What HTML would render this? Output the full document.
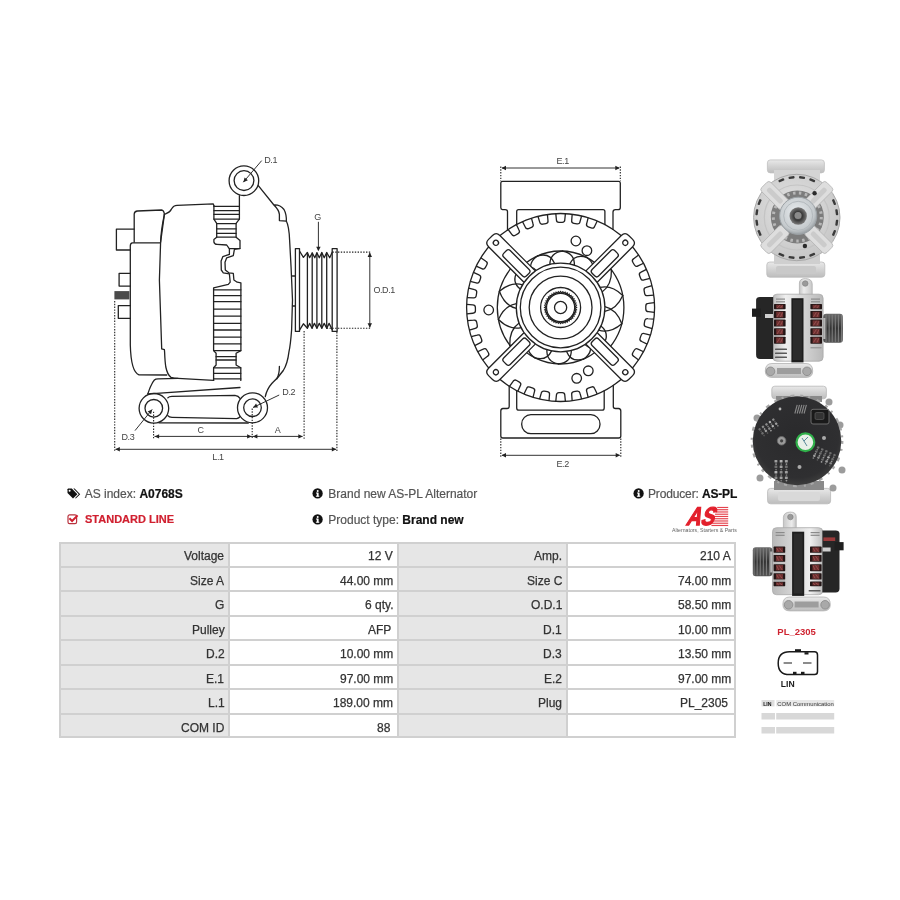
<!DOCTYPE html>
<html><head><meta charset="utf-8"><title>A0768S</title>
<style>
html,body{margin:0;padding:0;background:#fff;}
body{width:900px;height:900px;position:relative;overflow:hidden;font-family:"Liberation Sans",sans-serif;color:#333;}
.abs{position:absolute;}
.info,.cell,svg.draw{will-change:transform;}
svg.draw{position:absolute;left:0;top:0;}
.info{position:absolute;font-size:12px;color:#555;white-space:nowrap;line-height:14px;-webkit-text-stroke:0.2px currentColor;}
.info b{color:#111;}
.cell{position:absolute;font-size:12px;line-height:17px;color:#333;-webkit-text-stroke:0.25px #333;white-space:nowrap;text-align:right;}
</style></head><body>
<svg class="draw" width="900" height="900" viewBox="0 0 900 900">
<g fill="none" stroke="#222" stroke-width="1.3" stroke-linejoin="round" stroke-linecap="round">
<path d="M134.2,242.2 L134.2,214 Q134.5,211.2 137.5,211 L161.5,210 Q164,210.3 164.4,214.4 L160.6,242.2"/>
<path d="M160,242.8 L132.5,242.8 Q130.3,243 130.3,246 L130.3,345 Q131,372 139,374.8 L166.7,375"/>
<path d="M134.2,229.1 L116.4,229.1 L116.4,250 L130.3,250"/>
<path d="M130.3,273.3 L119.1,273.3 L119.1,286.1 L130.3,286.1"/>
<path d="M130.3,305.6 L118.3,305.6 L118.3,318.3 L130.3,318.3"/>
<path d="M164.4,214.4 L165.6,213.9 Q170,212.5 171.5,209 Q173.5,205.5 177,205.4 L213.3,203.9 L213.9,205.6"/>
<path d="M164.4,214.4 Q161,230 160.6,242.2 L159.4,280 L161.7,348.9 L164.4,349.6 L164.6,352 Q165,362 165.8,367 Q167.5,375 171,377.4 Q174,378.3 178,378.4 L213.6,380.4"/>
<path d="M213.9,205.6 L213.9,219.1 L216.7,223.3 L216.7,237.2 L213.9,239.4 L213.9,242 Q214.5,244.3 217,244.4 L226.7,245 L229.4,248.9 L229.4,254.4 L222.8,256.7 L221.1,261.1 L221.3,270 L223.3,272.8 L229.4,273.9 L230.2,282.2 L228.3,284.4 L213.6,287.8 L213.6,350.6 L216.1,353.3 L216.1,365 L213.6,367.8 L213.6,380.4"/>
<path d="M239.4,195.6 L239.4,219.1 L236.1,223.3 L236.1,237.2 L240,240.5 L240,248.3 L234.4,249.4 L233.3,255.6 L226.7,257.8 L225,262.2 L225.3,270 L228.9,272.8 L233.3,273.3 L233.9,280 L237.2,282.2 L240.9,282.8 L240.9,350.6 L236.1,353.3 L236.1,365 L240.8,367.8 L240.8,380.4"/>
<path d="M213.9,206.4 L239.4,206.4"/>
<path d="M213.9,210.6 L239.4,210.6"/>
<path d="M213.9,214.4 L239.4,214.4"/>
<path d="M213.9,219.1 L239.4,219.1"/>
<path d="M216.7,223.6 L236.1,223.6"/>
<path d="M216.7,228.9 L236.1,228.9"/>
<path d="M216.7,233.3 L236.1,233.3"/>
<path d="M216.7,237.2 L236.1,237.2"/>
<path d="M229.4,248.6 L240,248.6"/>
<path d="M213.6,289.8 L240.9,289.8"/>
<path d="M213.6,295.6 L240.9,295.6"/>
<path d="M213.6,301.7 L240.9,301.7"/>
<path d="M213.6,309.1 L240.9,309.1"/>
<path d="M213.6,316.1 L240.9,316.1"/>
<path d="M213.6,323.3 L240.9,323.3"/>
<path d="M213.6,330 L240.9,330"/>
<path d="M213.6,337.2 L240.9,337.2"/>
<path d="M213.6,343.9 L240.9,343.9"/>
<path d="M213.6,350.6 L240.9,350.6"/>
<path d="M216.1,356.7 L236.1,356.7"/>
<path d="M216.1,360 L236.1,360"/>
<path d="M213.6,367.8 L240.8,367.8"/>
<path d="M213.6,373.3 L240.8,373.3"/>
<path d="M213.6,378.9 L240.8,378.9"/>
<circle cx="243.9" cy="180.7" r="14.8"/>
<circle cx="244" cy="180.6" r="9.9"/>
<path d="M258.3,185.6 L273.9,205 Q280,204.5 284,209.5 Q286.5,214 286.4,221.2 M273.9,205 Q279,210 279.4,214.4 L279.4,220.6 L286.4,221.2"/>
<path d="M286.4,221.2 Q289,226 289.6,240 L291.1,267.8 L292.5,300 L291.6,330 Q290.5,345 288.9,352.2 Q287.5,364 283.3,370.5 Q278,378 272,383.3 Q267,389 265.3,396.5"/>
<path d="M279.4,366.3 Q279.5,374 276.8,378.9"/>
<path d="M292.4,276 L295.4,276 M292.5,306 L295.4,306"/>
<path d="M147.8,393.9 Q151,384 154.4,380 Q155.5,379 158,378.9 L178,378.4"/>
<path d="M147.8,393.9 L156.7,393.3 L240,387.5"/>
<path d="M167.8,397.8 Q169,396.4 172,396.3 L235,395.3 Q238.5,395.8 240,398.3"/>
<path d="M167.8,415.6 Q169,417.2 172,417.3 L236.7,418.7 Q239,418.2 240,416.7"/>
<path d="M158.9,422.8 L248.3,423"/>
<circle cx="153.9" cy="408.3" r="14.8"/>
<circle cx="153.8" cy="408.3" r="8.8"/>
<circle cx="252.5" cy="407.8" r="15"/>
<circle cx="252.5" cy="407.7" r="8.8"/>
<path d="M295.4,331.4 L295.4,248.6 L299.5,248.6 L299.5,331.4 Z"/>
<path d="M332.2,331.4 L332.2,248.6 L337.1,248.6 L337.1,331.4 Z"/>
<path d="M299.5,251 L303.4,257.4 L307.4,252.5 L309.6,257.7 L312.3,253.1 L314.8,257.7 L316.9,252.8 L319.3,257.7 L321.8,252.5 L324.2,257.7 L326.7,252.5 L329.7,257.7 L332.2,252.2"/>
<path d="M299.5,330.2 L303.4,323.8 L307.4,328.3 L309.6,323.4 L312,328.3 L314.4,323.4 L316.9,328.3 L319.3,323.4 L321.8,328.3 L324.2,323.4 L326.7,328.3 L329.1,323.4 L332.2,329.6"/>
<path d="M307.4,252.8 L307.4,328"/>
<path d="M312.2,252.8 L312.2,328"/>
<path d="M316.9,252.8 L316.9,328"/>
<path d="M321.8,252.8 L321.8,328"/>
<path d="M326.7,252.8 L326.7,328"/>
</g>
<rect x="114.4" y="291.1" width="15" height="8.3" fill="#4a4a4a"/>
<g fill="none" stroke="#222" stroke-width="1.1" stroke-dasharray="1.4 1.4">
<path d="M114.7,301 L114.7,451"/>
<path d="M153.6,411.7 L153.6,438.5"/>
<path d="M252.2,408.5 L252.2,439"/>
<path d="M304.1,331 L304.1,439"/>
<path d="M336.9,332 L336.9,451"/>
<path d="M332.4,252.1 L371.3,252.1"/>
<path d="M326.7,328.3 L371.3,328.3"/>
</g>
<g fill="none" stroke="#333" stroke-width="1">
<path d="M154.5,436.4 L302.5,436.4"/>
<path d="M115.5,449.3 L336,449.3"/>
<path d="M369.8,253 L369.8,327.5"/>
<path d="M318.4,221.8 L318.4,250"/>
<path d="M243.3,182.2 L261.7,160.6"/>
<path d="M152.2,409.4 L135,430.6"/>
<path d="M253,407.5 L279.2,395"/>
</g>
<g fill="#222" stroke="none">
<path d="M154.6,436.4 L159.1,434.2 L159.1,438.6 Z"/>
<path d="M251.6,436.4 L247.1,438.6 L247.1,434.2 Z"/>
<path d="M252.9,436.4 L257.4,434.2 L257.4,438.6 Z"/>
<path d="M302.8,436.4 L298.3,438.6 L298.3,434.2 Z"/>
<path d="M115.3,449.3 L119.8,447.1 L119.8,451.5 Z"/>
<path d="M336.3,449.3 L331.8,451.5 L331.8,447.1 Z"/>
<path d="M369.8,252.6 L372,257.1 L367.6,257.1 Z"/>
<path d="M369.8,327.8 L367.6,323.3 L372,323.3 Z"/>
<path d="M318.4,251.3 L316.2,246.8 L320.6,246.8 Z"/>
<path d="M243.3,182.2 L244.6,177.4 L247.9,180.2 Z"/>
<path d="M152.2,409.4 L151.1,414.3 L147.6,411.5 Z"/>
<path d="M253,407.5 L256.1,403.6 L258,407.5 Z"/>
</g>
<g font-family="Liberation Sans, sans-serif" font-size="9" fill="#444" letter-spacing="-0.4">
<text x="264.2" y="162.8">D.1</text>
<text x="314.3" y="220.3">G</text>
<text x="373.4" y="293.4">O.D.1</text>
<text x="282.3" y="395">D.2</text>
<text x="121.5" y="440.2">D.3</text>
<text x="197.6" y="433.3">C</text>
<text x="274.8" y="433.3">A</text>
<text x="212.3" y="460">L.1</text>
<text x="556.5" y="164.2">E.1</text>
<text x="556.5" y="466.7">E.2</text>
</g>
<g fill="none" stroke="#222" stroke-width="1.3" stroke-linejoin="round" stroke-linecap="round">
<path d="M507.5,229.93 L507.5,211.5 Q507.3,209.7 505,209.7 L502.5,209.7 Q500.8,209.5 500.8,207.5 L500.8,183 Q500.8,181.3 502.5,181.3 L618.6,181.3 Q620.3,181.3 620.3,183 L620.3,207.5 Q620.3,209.7 618,209.7 L615.5,209.7 Q613,209.8 613,212 L613,229.46"/>
<path d="M516.7,224.38 L516.7,211.5 Q516.7,209.6 518.6,209.6 L603,209.6 Q604.9,209.6 604.9,211.5 L604.9,224.59"/>
<path d="M509.2,386.2 L509.2,406.5 Q509.2,408.5 507,408.5 L503,408.5 Q500.8,408.7 500.8,411 L500.8,436 Q500.8,438 503,438 L618.6,438 Q620.8,438 620.8,436 L620.8,411 Q620.8,408.7 618.5,408.5 L615.5,408.5 Q613.3,408.5 613.3,406.5 L613.3,385.34"/>
<path d="M516.7,390.62 L516.7,408 Q516.7,410.2 519,410.2 L602,410.2 Q604.2,410.2 604.2,408 L604.2,390.78"/>
<rect x="521.7" y="414.7" width="78.3" height="19" rx="9.2"/>
<circle cx="560.6" cy="307.5" r="94"/>
</g>
<g fill="none" stroke="#222" stroke-width="1.3" stroke-linejoin="round">
<path transform="translate(560.6,307.5) rotate(329)" d="M-4.8,-93.88 L-4.2,-87.8 Q-4.2,-85.2 -1.6,-85.2 L1.6,-85.2 Q4.2,-85.2 4.2,-87.8 L4.8,-93.88"/>
<path transform="translate(560.6,307.5) rotate(339)" d="M-4.8,-93.88 L-4.2,-87.8 Q-4.2,-85.2 -1.6,-85.2 L1.6,-85.2 Q4.2,-85.2 4.2,-87.8 L4.8,-93.88"/>
<path transform="translate(560.6,307.5) rotate(349)" d="M-4.8,-93.88 L-4.2,-87.8 Q-4.2,-85.2 -1.6,-85.2 L1.6,-85.2 Q4.2,-85.2 4.2,-87.8 L4.8,-93.88"/>
<path transform="translate(560.6,307.5) rotate(0)" d="M-4.8,-93.88 L-4.2,-87.8 Q-4.2,-85.2 -1.6,-85.2 L1.6,-85.2 Q4.2,-85.2 4.2,-87.8 L4.8,-93.88"/>
<path transform="translate(560.6,307.5) rotate(10)" d="M-4.8,-93.88 L-4.2,-87.8 Q-4.2,-85.2 -1.6,-85.2 L1.6,-85.2 Q4.2,-85.2 4.2,-87.8 L4.8,-93.88"/>
<path transform="translate(560.6,307.5) rotate(20)" d="M-4.8,-93.88 L-4.2,-87.8 Q-4.2,-85.2 -1.6,-85.2 L1.6,-85.2 Q4.2,-85.2 4.2,-87.8 L4.8,-93.88"/>
<path transform="translate(560.6,307.5) rotate(59)" d="M-4.8,-93.88 L-4.2,-87.8 Q-4.2,-85.2 -1.6,-85.2 L1.6,-85.2 Q4.2,-85.2 4.2,-87.8 L4.8,-93.88"/>
<path transform="translate(560.6,307.5) rotate(69)" d="M-4.8,-93.88 L-4.2,-87.8 Q-4.2,-85.2 -1.6,-85.2 L1.6,-85.2 Q4.2,-85.2 4.2,-87.8 L4.8,-93.88"/>
<path transform="translate(560.6,307.5) rotate(79.5)" d="M-4.8,-93.88 L-4.2,-87.8 Q-4.2,-85.2 -1.6,-85.2 L1.6,-85.2 Q4.2,-85.2 4.2,-87.8 L4.8,-93.88"/>
<path transform="translate(560.6,307.5) rotate(90)" d="M-4.8,-93.88 L-4.2,-87.8 Q-4.2,-85.2 -1.6,-85.2 L1.6,-85.2 Q4.2,-85.2 4.2,-87.8 L4.8,-93.88"/>
<path transform="translate(560.6,307.5) rotate(100)" d="M-4.8,-93.88 L-4.2,-87.8 Q-4.2,-85.2 -1.6,-85.2 L1.6,-85.2 Q4.2,-85.2 4.2,-87.8 L4.8,-93.88"/>
<path transform="translate(560.6,307.5) rotate(110)" d="M-4.8,-93.88 L-4.2,-87.8 Q-4.2,-85.2 -1.6,-85.2 L1.6,-85.2 Q4.2,-85.2 4.2,-87.8 L4.8,-93.88"/>
<path transform="translate(560.6,307.5) rotate(121)" d="M-4.8,-93.88 L-4.2,-87.8 Q-4.2,-85.2 -1.6,-85.2 L1.6,-85.2 Q4.2,-85.2 4.2,-87.8 L4.8,-93.88"/>
<path transform="translate(560.6,307.5) rotate(160)" d="M-4.8,-93.88 L-4.2,-87.8 Q-4.2,-85.2 -1.6,-85.2 L1.6,-85.2 Q4.2,-85.2 4.2,-87.8 L4.8,-93.88"/>
<path transform="translate(560.6,307.5) rotate(170)" d="M-4.8,-93.88 L-4.2,-87.8 Q-4.2,-85.2 -1.6,-85.2 L1.6,-85.2 Q4.2,-85.2 4.2,-87.8 L4.8,-93.88"/>
<path transform="translate(560.6,307.5) rotate(180)" d="M-4.8,-93.88 L-4.2,-87.8 Q-4.2,-85.2 -1.6,-85.2 L1.6,-85.2 Q4.2,-85.2 4.2,-87.8 L4.8,-93.88"/>
<path transform="translate(560.6,307.5) rotate(190)" d="M-4.8,-93.88 L-4.2,-87.8 Q-4.2,-85.2 -1.6,-85.2 L1.6,-85.2 Q4.2,-85.2 4.2,-87.8 L4.8,-93.88"/>
<path transform="translate(560.6,307.5) rotate(200)" d="M-4.8,-93.88 L-4.2,-87.8 Q-4.2,-85.2 -1.6,-85.2 L1.6,-85.2 Q4.2,-85.2 4.2,-87.8 L4.8,-93.88"/>
<path transform="translate(560.6,307.5) rotate(210)" d="M-4.8,-93.88 L-4.2,-87.8 Q-4.2,-85.2 -1.6,-85.2 L1.6,-85.2 Q4.2,-85.2 4.2,-87.8 L4.8,-93.88"/>
<path transform="translate(560.6,307.5) rotate(239)" d="M-4.8,-93.88 L-4.2,-87.8 Q-4.2,-85.2 -1.6,-85.2 L1.6,-85.2 Q4.2,-85.2 4.2,-87.8 L4.8,-93.88"/>
<path transform="translate(560.6,307.5) rotate(249)" d="M-4.8,-93.88 L-4.2,-87.8 Q-4.2,-85.2 -1.6,-85.2 L1.6,-85.2 Q4.2,-85.2 4.2,-87.8 L4.8,-93.88"/>
<path transform="translate(560.6,307.5) rotate(259)" d="M-4.8,-93.88 L-4.2,-87.8 Q-4.2,-85.2 -1.6,-85.2 L1.6,-85.2 Q4.2,-85.2 4.2,-87.8 L4.8,-93.88"/>
<path transform="translate(560.6,307.5) rotate(269)" d="M-4.8,-93.88 L-4.2,-87.8 Q-4.2,-85.2 -1.6,-85.2 L1.6,-85.2 Q4.2,-85.2 4.2,-87.8 L4.8,-93.88"/>
<path transform="translate(560.6,307.5) rotate(279)" d="M-4.8,-93.88 L-4.2,-87.8 Q-4.2,-85.2 -1.6,-85.2 L1.6,-85.2 Q4.2,-85.2 4.2,-87.8 L4.8,-93.88"/>
<path transform="translate(560.6,307.5) rotate(289)" d="M-4.8,-93.88 L-4.2,-87.8 Q-4.2,-85.2 -1.6,-85.2 L1.6,-85.2 Q4.2,-85.2 4.2,-87.8 L4.8,-93.88"/>
<path transform="translate(560.6,307.5) rotate(299)" d="M-4.8,-93.88 L-4.2,-87.8 Q-4.2,-85.2 -1.6,-85.2 L1.6,-85.2 Q4.2,-85.2 4.2,-87.8 L4.8,-93.88"/>
</g>
<g fill="none" stroke="#222" stroke-width="1.3" stroke-linejoin="round" stroke-linecap="round">
<path d="M609.09,266.81 A63.3,63.3 0 0 1 609.09,348.19 M512.11,348.19 A63.3,63.3 0 0 1 512.11,266.81"/>
<path d="M517.32,271.18 A56.5,56.5 0 0 1 603.88,271.18 M603.88,343.82 A56.5,56.5 0 0 1 517.32,343.82"/>
<path d="M603.88,271.18 L609.09,266.81"/>
<path d="M603.88,343.82 L609.09,348.19"/>
<path d="M517.32,343.82 L512.11,348.19"/>
<path d="M517.32,271.18 L512.11,266.81"/>
<path d="M562.57,251.03 Q549.91,252.53 549.88,264.52"/>
<path d="M562.57,251.03 Q575.09,253.41 574.29,265.37"/>
<path d="M586.88,257.48 Q574.82,253.34 569.59,264.12"/>
<path d="M586.88,257.48 Q597.13,265.05 591.21,275.48"/>
<path d="M611.44,269.78 Q596.92,264.87 587.52,272.32"/>
<path d="M611.44,269.78 Q611.93,285.11 602.08,291.93"/>
<path d="M622.77,295.58 Q611.82,284.85 600.12,287.49"/>
<path d="M622.77,295.58 Q616.56,309.59 604.72,311.47"/>
<path d="M621.78,323.73 Q616.57,309.31 604.89,306.62"/>
<path d="M621.78,323.73 Q610.11,333.67 598.63,330.22"/>
<path d="M603.52,344.25 Q610.24,333.42 600.89,325.92"/>
<path d="M603.52,344.25 Q593.85,352.56 585,344.47"/>
<path d="M583.32,359.23 Q594.08,352.39 588.91,341.58"/>
<path d="M583.32,359.23 Q571.01,362.52 566.55,351.4"/>
<path d="M558.63,363.97 Q571.29,362.47 571.32,350.48"/>
<path d="M558.63,363.97 Q546.11,361.59 546.91,349.63"/>
<path d="M534.32,357.52 Q546.38,361.66 551.61,350.88"/>
<path d="M534.32,357.52 Q524.07,349.95 529.99,339.52"/>
<path d="M509.76,345.22 Q524.28,350.13 533.68,342.68"/>
<path d="M509.76,345.22 Q509.27,329.89 519.12,323.07"/>
<path d="M498.43,319.42 Q509.38,330.15 521.08,327.51"/>
<path d="M498.43,319.42 Q504.64,305.41 516.48,303.53"/>
<path d="M499.42,291.27 Q504.63,305.69 516.31,308.38"/>
<path d="M499.42,291.27 Q511.09,281.33 522.57,284.78"/>
<path d="M517.68,270.75 Q510.96,281.58 520.31,289.08"/>
<path d="M517.68,270.75 Q527.35,262.44 536.2,270.53"/>
<path d="M537.88,255.77 Q527.12,262.61 532.29,273.42"/>
<path d="M537.88,255.77 Q550.19,252.48 554.65,263.6"/>
</g>
<g fill="#fff" stroke="#222" stroke-width="1.3" stroke-linejoin="round">
<path transform="translate(560.6,307.5) rotate(315)" d="M-8,-43.8 L-8,-93.9 Q-8,-99.1 -2.8,-99.1 L2.8,-99.1 Q8,-99.1 8,-93.9 L8,-43.8"/>
<circle transform="translate(560.6,307.5) rotate(315)" cx="0" cy="-91.5" r="2.6"/>
<rect transform="translate(560.6,307.5) rotate(315)" x="-4.6" y="-78.5" width="9.2" height="32" rx="2.6"/>
<path transform="translate(560.6,307.5) rotate(45)" d="M-8,-43.8 L-8,-93.9 Q-8,-99.1 -2.8,-99.1 L2.8,-99.1 Q8,-99.1 8,-93.9 L8,-43.8"/>
<circle transform="translate(560.6,307.5) rotate(45)" cx="0" cy="-91.5" r="2.6"/>
<rect transform="translate(560.6,307.5) rotate(45)" x="-4.6" y="-78.5" width="9.2" height="32" rx="2.6"/>
<path transform="translate(560.6,307.5) rotate(135)" d="M-8,-43.8 L-8,-93.9 Q-8,-99.1 -2.8,-99.1 L2.8,-99.1 Q8,-99.1 8,-93.9 L8,-43.8"/>
<circle transform="translate(560.6,307.5) rotate(135)" cx="0" cy="-91.5" r="2.6"/>
<rect transform="translate(560.6,307.5) rotate(135)" x="-4.6" y="-78.5" width="9.2" height="32" rx="2.6"/>
<path transform="translate(560.6,307.5) rotate(225)" d="M-8,-43.8 L-8,-93.9 Q-8,-99.1 -2.8,-99.1 L2.8,-99.1 Q8,-99.1 8,-93.9 L8,-43.8"/>
<circle transform="translate(560.6,307.5) rotate(225)" cx="0" cy="-91.5" r="2.6"/>
<rect transform="translate(560.6,307.5) rotate(225)" x="-4.6" y="-78.5" width="9.2" height="32" rx="2.6"/>
</g>
<g fill="none" stroke="#222" stroke-width="1.3">
<circle cx="560.6" cy="307.5" r="44.3" fill="#fff"/>
<circle cx="560.6" cy="307.5" r="40.3"/>
<circle cx="560.6" cy="307.5" r="31.4"/>
<circle cx="560.6" cy="307.5" r="20"/>
<circle cx="560.6" cy="307.5" r="6.1"/>
</g>
<path d="M560.6,291.5 L561.64,292.94 L562.88,291.66 L563.7,293.23 L565.11,292.15 L565.7,293.82 L567.25,292.95 L567.6,294.69 L569.25,294.04 L569.35,295.81 L571.08,295.41 L570.92,297.18 L572.69,297.02 L572.29,298.75 L574.06,298.85 L573.41,300.5 L575.15,300.85 L574.28,302.4 L575.95,302.99 L574.87,304.4 L576.44,305.22 L575.16,306.46 L576.6,307.5 L575.16,308.54 L576.44,309.78 L574.87,310.6 L575.95,312.01 L574.28,312.6 L575.15,314.15 L573.41,314.5 L574.06,316.15 L572.29,316.25 L572.69,317.98 L570.92,317.82 L571.08,319.59 L569.35,319.19 L569.25,320.96 L567.6,320.31 L567.25,322.05 L565.7,321.18 L565.11,322.85 L563.7,321.77 L562.88,323.34 L561.64,322.06 L560.6,323.5 L559.56,322.06 L558.32,323.34 L557.5,321.77 L556.09,322.85 L555.5,321.18 L553.95,322.05 L553.6,320.31 L551.95,320.96 L551.85,319.19 L550.12,319.59 L550.28,317.82 L548.51,317.98 L548.91,316.25 L547.14,316.15 L547.79,314.5 L546.05,314.15 L546.92,312.6 L545.25,312.01 L546.33,310.6 L544.76,309.78 L546.04,308.54 L544.6,307.5 L546.04,306.46 L544.76,305.22 L546.33,304.4 L545.25,302.99 L546.92,302.4 L546.05,300.85 L547.79,300.5 L547.14,298.85 L548.91,298.75 L548.51,297.02 L550.28,297.18 L550.12,295.41 L551.85,295.81 L551.95,294.04 L553.6,294.69 L553.95,292.95 L555.5,293.82 L556.09,292.15 L557.5,293.23 L558.32,291.66 L559.56,292.94Z" fill="none" stroke="#222" stroke-width="1.2" stroke-linejoin="miter"/>
<circle cx="560.6" cy="307.5" r="14.1" fill="none" stroke="#222" stroke-width="1.3"/>
<g fill="#fff" stroke="#222" stroke-width="1.3">
<circle cx="575.9" cy="241" r="4.8"/>
<circle cx="586.9" cy="250.7" r="4.8"/>
<circle cx="576.7" cy="378.3" r="4.8"/>
<circle cx="588.3" cy="370.8" r="4.8"/>
<circle cx="488.7" cy="310" r="4.8"/>
</g>
<g fill="none" stroke="#222" stroke-width="1.1" stroke-dasharray="1.4 1.4">
<path d="M500.8,166.5 L500.8,181 M620.3,166.5 L620.3,181"/>
<path d="M500.8,438.5 L500.8,457 M620.8,438.5 L620.8,457"/>
</g>
<g fill="none" stroke="#333" stroke-width="1">
<path d="M502,168 L619,168"/>
<path d="M502,455.3 L619.5,455.3"/>
</g>
<g fill="#222">
<path d="M501.5,168 L506,165.8 L506,170.2 Z"/>
<path d="M619.8,168 L615.3,170.2 L615.3,165.8 Z"/>
<path d="M501.5,455.3 L506,453.1 L506,457.5 Z"/>
<path d="M620.2,455.3 L615.7,457.5 L615.7,453.1 Z"/>
</g>
<defs>
<linearGradient id="gv" x1="0" y1="0" x2="0" y2="1"><stop offset="0" stop-color="#e9e9e9"/><stop offset="0.5" stop-color="#d2d2d2"/><stop offset="1" stop-color="#bdbdbd"/></linearGradient>
<linearGradient id="gh" x1="0" y1="0" x2="1" y2="0"><stop offset="0" stop-color="#c4c4c4"/><stop offset="0.35" stop-color="#ececec"/><stop offset="1" stop-color="#c8c8c8"/></linearGradient>
<linearGradient id="gbody" x1="0" y1="0" x2="1" y2="0"><stop offset="0" stop-color="#bdbdbd"/><stop offset="0.25" stop-color="#efefef"/><stop offset="0.55" stop-color="#d9d9d9"/><stop offset="1" stop-color="#b9b9b9"/></linearGradient>
<radialGradient id="gdisc" cx="0.45" cy="0.4" r="0.6"><stop offset="0" stop-color="#e4e4e4"/><stop offset="1" stop-color="#c6c6c6"/></radialGradient>
<radialGradient id="gpul" cx="0.45" cy="0.4" r="0.6"><stop offset="0" stop-color="#e8ecef"/><stop offset="0.8" stop-color="#c5cacd"/><stop offset="1" stop-color="#9aa0a4"/></radialGradient>
<radialGradient id="ghub" cx="0.5" cy="0.5" r="0.5"><stop offset="0" stop-color="#6a6a6a"/><stop offset="0.5" stop-color="#3a3a3a"/><stop offset="1" stop-color="#7a7a7a"/></radialGradient>
<linearGradient id="gpulley" x1="0" y1="0" x2="0" y2="1"><stop offset="0" stop-color="#6a6a6a"/><stop offset="0.5" stop-color="#333"/><stop offset="1" stop-color="#555"/></linearGradient>
<radialGradient id="gblack" cx="0.5" cy="0.45" r="0.55"><stop offset="0" stop-color="#2a2a2c"/><stop offset="0.85" stop-color="#2f2f31"/><stop offset="1" stop-color="#3c3c3c"/></radialGradient>
</defs>
<g>
<rect x="767.4" y="159.9" width="57" height="13" rx="3" fill="url(#gv)" stroke="#c0c0c0" stroke-width="0.8"/>
<rect x="766.8" y="262" width="58" height="15.2" rx="3" fill="url(#gv)" stroke="#bdbdbd" stroke-width="0.8"/>
<rect x="776" y="266" width="40" height="8" rx="2" fill="#c9c9c9"/>
<rect x="774" y="170" width="46" height="10" fill="#d4d4d4"/>
<rect x="774" y="255" width="46" height="9" fill="#cfcfcf"/>
<circle cx="796.8" cy="217.5" r="43.2" fill="url(#gdisc)" stroke="#a8a8a8" stroke-width="1"/>
<rect x="-3" y="-1.2" width="6" height="2.4" rx="0.8" fill="#3a3a3a" transform="translate(802.06,177.54) rotate(7.5)"/>
<rect x="-3" y="-1.2" width="6" height="2.4" rx="0.8" fill="#3a3a3a" transform="translate(812.22,180.27) rotate(22.5)"/>
<rect x="-3" y="-1.2" width="6" height="2.4" rx="0.8" fill="#3a3a3a" transform="translate(834.03,202.08) rotate(67.5)"/>
<rect x="-3" y="-1.2" width="6" height="2.4" rx="0.8" fill="#3a3a3a" transform="translate(836.76,212.24) rotate(82.5)"/>
<rect x="-3" y="-1.2" width="6" height="2.4" rx="0.8" fill="#3a3a3a" transform="translate(836.76,222.76) rotate(97.5)"/>
<rect x="-3" y="-1.2" width="6" height="2.4" rx="0.8" fill="#3a3a3a" transform="translate(834.03,232.92) rotate(112.5)"/>
<rect x="-3" y="-1.2" width="6" height="2.4" rx="0.8" fill="#3a3a3a" transform="translate(812.22,254.73) rotate(157.5)"/>
<rect x="-3" y="-1.2" width="6" height="2.4" rx="0.8" fill="#3a3a3a" transform="translate(802.06,257.46) rotate(172.5)"/>
<rect x="-3" y="-1.2" width="6" height="2.4" rx="0.8" fill="#3a3a3a" transform="translate(791.54,257.46) rotate(187.5)"/>
<rect x="-3" y="-1.2" width="6" height="2.4" rx="0.8" fill="#3a3a3a" transform="translate(781.38,254.73) rotate(202.5)"/>
<rect x="-3" y="-1.2" width="6" height="2.4" rx="0.8" fill="#3a3a3a" transform="translate(759.57,232.92) rotate(247.5)"/>
<rect x="-3" y="-1.2" width="6" height="2.4" rx="0.8" fill="#3a3a3a" transform="translate(756.84,222.76) rotate(262.5)"/>
<rect x="-3" y="-1.2" width="6" height="2.4" rx="0.8" fill="#3a3a3a" transform="translate(756.84,212.24) rotate(277.5)"/>
<rect x="-3" y="-1.2" width="6" height="2.4" rx="0.8" fill="#3a3a3a" transform="translate(759.57,202.08) rotate(292.5)"/>
<rect x="-3" y="-1.2" width="6" height="2.4" rx="0.8" fill="#3a3a3a" transform="translate(781.38,180.27) rotate(337.5)"/>
<rect x="-3" y="-1.2" width="6" height="2.4" rx="0.8" fill="#3a3a3a" transform="translate(791.54,177.54) rotate(352.5)"/>
<circle cx="797.3" cy="217" r="26.5" fill="#7c7c7c"/>
<circle cx="797.3" cy="217" r="24" fill="none" stroke="#b8b8b8" stroke-width="3" stroke-dasharray="2.5 3.5"/>
<circle cx="796.8" cy="217.5" r="32.5" fill="none" stroke="#c4c4c4" stroke-width="1.2"/>
<rect x="-6.5" y="-46" width="13" height="30" rx="3" fill="#dedede" stroke="#b4b4b4" stroke-width="0.8" transform="translate(796.8,217.5) rotate(45)"/>
<rect x="-2.5" y="-41" width="5" height="20" rx="2" fill="#cbcbcb" transform="translate(796.8,217.5) rotate(45)"/>
<rect x="-6.5" y="-46" width="13" height="30" rx="3" fill="#dedede" stroke="#b4b4b4" stroke-width="0.8" transform="translate(796.8,217.5) rotate(135)"/>
<rect x="-2.5" y="-41" width="5" height="20" rx="2" fill="#cbcbcb" transform="translate(796.8,217.5) rotate(135)"/>
<rect x="-6.5" y="-46" width="13" height="30" rx="3" fill="#dedede" stroke="#b4b4b4" stroke-width="0.8" transform="translate(796.8,217.5) rotate(225)"/>
<rect x="-2.5" y="-41" width="5" height="20" rx="2" fill="#cbcbcb" transform="translate(796.8,217.5) rotate(225)"/>
<rect x="-6.5" y="-46" width="13" height="30" rx="3" fill="#dedede" stroke="#b4b4b4" stroke-width="0.8" transform="translate(796.8,217.5) rotate(315)"/>
<rect x="-2.5" y="-41" width="5" height="20" rx="2" fill="#cbcbcb" transform="translate(796.8,217.5) rotate(315)"/>
<circle cx="814.6" cy="193.2" r="2.2" fill="#2a2a2a"/><circle cx="804.9" cy="246" r="2.2" fill="#2a2a2a"/>
<circle cx="798.2" cy="215.8" r="18.6" fill="url(#gpul)" stroke="#9ca2a6" stroke-width="1"/>
<circle cx="798.2" cy="215.8" r="14.5" fill="none" stroke="#b3b9bd" stroke-width="1"/>
<circle cx="798.2" cy="216" r="8.7" fill="url(#ghub)"/>
<circle cx="798" cy="215.5" r="3.5" fill="#8a8a8a"/>
</g>
<g>
<path d="M799.4,296 L799.4,283 Q799.5,278.6 805.5,278.6 Q812,278.8 812.2,284 L812.2,296 Z" fill="url(#gh)" stroke="#b0b0b0" stroke-width="0.8"/>
<circle cx="805.2" cy="283.5" r="2.8" fill="#9a9a9a" stroke="#7a7a7a" stroke-width="0.6"/>
<path d="M765.3,371 Q765.3,363.5 772,363.5 L806,363.5 Q812.7,363.5 812.7,371 Q812.7,377.4 806,377.4 L772,377.4 Q765.3,377.4 765.3,371 Z" fill="url(#gv)" stroke="#b2b2b2" stroke-width="0.8"/>
<circle cx="770.5" cy="371.3" r="4.3" fill="#a9a9a9" stroke="#888" stroke-width="0.8"/><circle cx="807" cy="371.3" r="4.3" fill="#a9a9a9" stroke="#888" stroke-width="0.8"/>
<rect x="777" y="368" width="24" height="6" fill="#9d9d9d"/>
<rect x="772.9" y="294.2" width="50.2" height="67" rx="4" fill="url(#gbody)" stroke="#aaa" stroke-width="0.8"/>
<path d="M756.1,300 Q756.2,297 760,297 L773.2,297 L773.2,359 L760,359 Q756.1,359 756.1,355 Z" fill="#262626"/>
<rect x="752" y="308.6" width="9" height="8.2" fill="#1f1f1f"/>
<rect x="765" y="314" width="8" height="4" fill="#cfcfcf"/>
<rect x="791.4" y="298.2" width="12.1" height="64.2" fill="#1e1e1e"/>
<rect x="793" y="300" width="8.9" height="60" fill="#2c2c2c"/>
<rect x="774" y="304" width="11.6" height="5.2" rx="0.6" fill="#241616"/>
<rect x="776.2" y="304.8" width="6.96" height="3.6" fill="#6e3030"/>
<path d="M777,308 L780,305.2 M780.5,308 L782.5,305.5" stroke="#a45a5a" stroke-width="0.7"/>
<rect x="810.4" y="304" width="11.6" height="5.2" rx="0.6" fill="#241616"/>
<rect x="812.6" y="304.8" width="6.96" height="3.6" fill="#6e3030"/>
<path d="M813.4,308 L816.4,305.2 M816.9,308 L818.9,305.5" stroke="#a45a5a" stroke-width="0.7"/>
<rect x="774" y="311" width="11.6" height="7.2" rx="0.6" fill="#241616"/>
<rect x="776.2" y="311.8" width="6.96" height="5.6" fill="#6e3030"/>
<path d="M777,317 L780,312.2 M780.5,317 L782.5,312.5" stroke="#a45a5a" stroke-width="0.7"/>
<rect x="810.4" y="311" width="11.6" height="7.2" rx="0.6" fill="#241616"/>
<rect x="812.6" y="311.8" width="6.96" height="5.6" fill="#6e3030"/>
<path d="M813.4,317 L816.4,312.2 M816.9,317 L818.9,312.5" stroke="#a45a5a" stroke-width="0.7"/>
<rect x="774" y="319.6" width="11.6" height="7" rx="0.6" fill="#241616"/>
<rect x="776.2" y="320.4" width="6.96" height="5.4" fill="#6e3030"/>
<path d="M777,325.4 L780,320.8 M780.5,325.4 L782.5,321.1" stroke="#a45a5a" stroke-width="0.7"/>
<rect x="810.4" y="319.6" width="11.6" height="7" rx="0.6" fill="#241616"/>
<rect x="812.6" y="320.4" width="6.96" height="5.4" fill="#6e3030"/>
<path d="M813.4,325.4 L816.4,320.8 M816.9,325.4 L818.9,321.1" stroke="#a45a5a" stroke-width="0.7"/>
<rect x="774" y="328.2" width="11.6" height="7" rx="0.6" fill="#241616"/>
<rect x="776.2" y="329" width="6.96" height="5.4" fill="#6e3030"/>
<path d="M777,334 L780,329.4 M780.5,334 L782.5,329.7" stroke="#a45a5a" stroke-width="0.7"/>
<rect x="810.4" y="328.2" width="11.6" height="7" rx="0.6" fill="#241616"/>
<rect x="812.6" y="329" width="6.96" height="5.4" fill="#6e3030"/>
<path d="M813.4,334 L816.4,329.4 M816.9,334 L818.9,329.7" stroke="#a45a5a" stroke-width="0.7"/>
<rect x="774" y="336.7" width="11.6" height="7" rx="0.6" fill="#241616"/>
<rect x="776.2" y="337.5" width="6.96" height="5.4" fill="#6e3030"/>
<path d="M777,342.5 L780,337.9 M780.5,342.5 L782.5,338.2" stroke="#a45a5a" stroke-width="0.7"/>
<rect x="810.4" y="336.7" width="11.6" height="7" rx="0.6" fill="#241616"/>
<rect x="812.6" y="337.5" width="6.96" height="5.4" fill="#6e3030"/>
<path d="M813.4,342.5 L816.4,337.9 M816.9,342.5 L818.9,338.2" stroke="#a45a5a" stroke-width="0.7"/>
<rect x="775" y="348.5" width="12" height="1.6" rx="0.6" fill="#5a5a5a"/>
<rect x="775" y="352.5" width="12" height="1.6" rx="0.6" fill="#5a5a5a"/>
<rect x="775" y="356.5" width="12" height="1.6" rx="0.6" fill="#5a5a5a"/>
<rect x="776" y="298.5" width="9" height="1.2" fill="#8a8a8a"/><rect x="811" y="298.5" width="9" height="1.2" fill="#8a8a8a"/>
<rect x="776" y="301.2" width="9" height="1.2" fill="#8a8a8a"/><rect x="811" y="301.2" width="9" height="1.2" fill="#8a8a8a"/>
<rect x="810.5" y="347" width="11" height="1.4" fill="#9a9a9a"/>
<rect x="823.2" y="313.8" width="19.6" height="28.9" rx="3" fill="url(#gpulley)"/>
<rect x="825.5" y="314.6" width="1.1" height="27.3" fill="#7a7a7a"/>
<rect x="828.6" y="314.6" width="1.1" height="27.3" fill="#7a7a7a"/>
<rect x="831.7" y="314.6" width="1.1" height="27.3" fill="#7a7a7a"/>
<rect x="834.8" y="314.6" width="1.1" height="27.3" fill="#7a7a7a"/>
<rect x="837.9" y="314.6" width="1.1" height="27.3" fill="#7a7a7a"/>
<rect x="841" y="314.6" width="1.1" height="27.3" fill="#7a7a7a"/>
<rect x="823.2" y="318" width="2.2" height="21" fill="#b5b5b5"/>
</g>
<g transform="translate(1595.6,233.5) scale(-1,1)">
<path d="M799.4,296 L799.4,283 Q799.5,278.6 805.5,278.6 Q812,278.8 812.2,284 L812.2,296 Z" fill="url(#gh)" stroke="#b0b0b0" stroke-width="0.8"/>
<circle cx="805.2" cy="283.5" r="2.8" fill="#9a9a9a" stroke="#7a7a7a" stroke-width="0.6"/>
<path d="M765.3,371 Q765.3,363.5 772,363.5 L806,363.5 Q812.7,363.5 812.7,371 Q812.7,377.4 806,377.4 L772,377.4 Q765.3,377.4 765.3,371 Z" fill="url(#gv)" stroke="#b2b2b2" stroke-width="0.8"/>
<circle cx="770.5" cy="371.3" r="4.3" fill="#a9a9a9" stroke="#888" stroke-width="0.8"/><circle cx="807" cy="371.3" r="4.3" fill="#a9a9a9" stroke="#888" stroke-width="0.8"/>
<rect x="777" y="368" width="24" height="6" fill="#9d9d9d"/>
<rect x="772.9" y="294.2" width="50.2" height="67" rx="4" fill="url(#gbody)" stroke="#aaa" stroke-width="0.8"/>
<path d="M756.1,300 Q756.2,297 760,297 L773.2,297 L773.2,359 L760,359 Q756.1,359 756.1,355 Z" fill="#262626"/>
<rect x="752" y="308.6" width="9" height="8.2" fill="#1f1f1f"/>
<rect x="765" y="314" width="8" height="4" fill="#cfcfcf"/>
<rect x="791.4" y="298.2" width="12.1" height="64.2" fill="#1e1e1e"/>
<rect x="793" y="300" width="8.9" height="60" fill="#2c2c2c"/>
<rect x="774" y="313.1" width="11.6" height="6.2" rx="0.6" fill="#241616"/>
<rect x="776.2" y="313.9" width="6.96" height="4.6" fill="#6e3030"/>
<path d="M777,318.1 L780,314.3 M780.5,318.1 L782.5,314.6" stroke="#a45a5a" stroke-width="0.7"/>
<rect x="810.4" y="313.1" width="11.6" height="6.2" rx="0.6" fill="#241616"/>
<rect x="812.6" y="313.9" width="6.96" height="4.6" fill="#6e3030"/>
<path d="M813.4,318.1 L816.4,314.3 M816.9,318.1 L818.9,314.6" stroke="#a45a5a" stroke-width="0.7"/>
<rect x="774" y="321.5" width="11.6" height="6.8" rx="0.6" fill="#241616"/>
<rect x="776.2" y="322.3" width="6.96" height="5.2" fill="#6e3030"/>
<path d="M777,327.1 L780,322.7 M780.5,327.1 L782.5,323" stroke="#a45a5a" stroke-width="0.7"/>
<rect x="810.4" y="321.5" width="11.6" height="6.8" rx="0.6" fill="#241616"/>
<rect x="812.6" y="322.3" width="6.96" height="5.2" fill="#6e3030"/>
<path d="M813.4,327.1 L816.4,322.7 M816.9,327.1 L818.9,323" stroke="#a45a5a" stroke-width="0.7"/>
<rect x="774" y="330.7" width="11.6" height="7" rx="0.6" fill="#241616"/>
<rect x="776.2" y="331.5" width="6.96" height="5.4" fill="#6e3030"/>
<path d="M777,336.5 L780,331.9 M780.5,336.5 L782.5,332.2" stroke="#a45a5a" stroke-width="0.7"/>
<rect x="810.4" y="330.7" width="11.6" height="7" rx="0.6" fill="#241616"/>
<rect x="812.6" y="331.5" width="6.96" height="5.4" fill="#6e3030"/>
<path d="M813.4,336.5 L816.4,331.9 M816.9,336.5 L818.9,332.2" stroke="#a45a5a" stroke-width="0.7"/>
<rect x="774" y="339.7" width="11.6" height="6.4" rx="0.6" fill="#241616"/>
<rect x="776.2" y="340.5" width="6.96" height="4.8" fill="#6e3030"/>
<path d="M777,344.9 L780,340.9 M780.5,344.9 L782.5,341.2" stroke="#a45a5a" stroke-width="0.7"/>
<rect x="810.4" y="339.7" width="11.6" height="6.4" rx="0.6" fill="#241616"/>
<rect x="812.6" y="340.5" width="6.96" height="4.8" fill="#6e3030"/>
<path d="M813.4,344.9 L816.4,340.9 M816.9,344.9 L818.9,341.2" stroke="#a45a5a" stroke-width="0.7"/>
<rect x="774" y="348.1" width="11.6" height="4.6" rx="0.6" fill="#241616"/>
<rect x="776.2" y="348.9" width="6.96" height="3" fill="#6e3030"/>
<path d="M777,351.5 L780,349.3 M780.5,351.5 L782.5,349.6" stroke="#a45a5a" stroke-width="0.7"/>
<rect x="810.4" y="348.1" width="11.6" height="4.6" rx="0.6" fill="#241616"/>
<rect x="812.6" y="348.9" width="6.96" height="3" fill="#6e3030"/>
<path d="M813.4,351.5 L816.4,349.3 M816.9,351.5 L818.9,349.6" stroke="#a45a5a" stroke-width="0.7"/>
<rect x="775" y="356.5" width="12" height="1.6" rx="0.6" fill="#5a5a5a"/>
<rect x="776" y="298.5" width="9" height="1.2" fill="#8a8a8a"/><rect x="811" y="298.5" width="9" height="1.2" fill="#8a8a8a"/>
<rect x="776" y="301.2" width="9" height="1.2" fill="#8a8a8a"/><rect x="811" y="301.2" width="9" height="1.2" fill="#8a8a8a"/>
<rect x="810.5" y="347" width="11" height="1.4" fill="#9a9a9a"/>
<rect x="823.2" y="313.8" width="19.6" height="28.9" rx="3" fill="url(#gpulley)"/>
<rect x="825.5" y="314.6" width="1.1" height="27.3" fill="#7a7a7a"/>
<rect x="828.6" y="314.6" width="1.1" height="27.3" fill="#7a7a7a"/>
<rect x="831.7" y="314.6" width="1.1" height="27.3" fill="#7a7a7a"/>
<rect x="834.8" y="314.6" width="1.1" height="27.3" fill="#7a7a7a"/>
<rect x="837.9" y="314.6" width="1.1" height="27.3" fill="#7a7a7a"/>
<rect x="841" y="314.6" width="1.1" height="27.3" fill="#7a7a7a"/>
<rect x="823.2" y="318" width="2.2" height="21" fill="#b5b5b5"/>
</g>
<rect x="823.4" y="537.4" width="11.8" height="3.6" fill="#9a3b3b"/>
<g>
<rect x="771.8" y="386.2" width="54.6" height="12.6" rx="3" fill="url(#gv)" stroke="#b8b8b8" stroke-width="0.8"/>
<rect x="767.6" y="488.4" width="63" height="15.4" rx="3" fill="url(#gv)" stroke="#b8b8b8" stroke-width="0.8"/>
<rect x="778" y="492" width="42" height="9" rx="2" fill="#d9d9d9"/>
<rect x="776" y="396" width="46" height="6" fill="#8a8a8a"/>
<rect x="774" y="481" width="50" height="9" fill="#8a8a8a"/>
<circle cx="757" cy="418" r="3.5" fill="#9c9c9c"/>
<circle cx="840" cy="425" r="3.5" fill="#9c9c9c"/>
<circle cx="842" cy="470" r="3.5" fill="#9c9c9c"/>
<circle cx="760" cy="478" r="3.5" fill="#9c9c9c"/>
<circle cx="829" cy="402" r="3.5" fill="#9c9c9c"/>
<circle cx="833" cy="488" r="3.5" fill="#9c9c9c"/>
<circle cx="797" cy="440.9" r="45.2" fill="none" stroke="#a8a8a8" stroke-width="2.4" stroke-dasharray="3 5 2 7 4 6"/>
<circle cx="797" cy="440.9" r="44.3" fill="url(#gblack)"/>
<rect x="811" y="409.3" width="18" height="14.7" rx="2" fill="#1a1a1a" stroke="#6a6a6a" stroke-width="1"/>
<rect x="815" y="412.5" width="9" height="7" rx="1.5" fill="#333" stroke="#666" stroke-width="0.6"/>
<g transform="rotate(-35 758 429)">
<rect x="758" y="429" width="2.31" height="2.25" rx="0.6" fill="#6e6e6e"/>
<circle cx="759.26" cy="432.75" r="0.9" fill="#555"/>
<rect x="758" y="434" width="2.31" height="2.25" rx="0.6" fill="#6e6e6e"/>
<circle cx="759.26" cy="437.75" r="0.9" fill="#555"/>
<rect x="762.2" y="429" width="2.31" height="2.25" rx="0.6" fill="#8c8c8c"/>
<circle cx="763.46" cy="432.75" r="0.9" fill="#999"/>
<rect x="762.2" y="434" width="2.31" height="2.25" rx="0.6" fill="#a0a0a0"/>
<circle cx="763.46" cy="437.75" r="0.9" fill="#555"/>
<rect x="766.4" y="429" width="2.31" height="2.25" rx="0.6" fill="#8c8c8c"/>
<circle cx="767.66" cy="432.75" r="0.9" fill="#777"/>
<rect x="766.4" y="434" width="2.31" height="2.25" rx="0.6" fill="#8c8c8c"/>
<circle cx="767.66" cy="437.75" r="0.9" fill="#999"/>
<rect x="770.6" y="429" width="2.31" height="2.25" rx="0.6" fill="#b4b4b4"/>
<circle cx="771.86" cy="432.75" r="0.9" fill="#777"/>
<rect x="770.6" y="434" width="2.31" height="2.25" rx="0.6" fill="#b4b4b4"/>
<circle cx="771.86" cy="437.75" r="0.9" fill="#555"/>
<rect x="774.8" y="429" width="2.31" height="2.25" rx="0.6" fill="#8c8c8c"/>
<circle cx="776.06" cy="432.75" r="0.9" fill="#555"/>
<rect x="774.8" y="434" width="2.31" height="2.25" rx="0.6" fill="#a0a0a0"/>
<circle cx="776.06" cy="437.75" r="0.9" fill="#777"/>
</g>
<g transform="rotate(0 774.5 460)">
<rect x="774.5" y="460" width="2.86" height="2.48" rx="0.6" fill="#a0a0a0"/>
<circle cx="776.06" cy="464.12" r="0.9" fill="#999"/>
<rect x="774.5" y="465.5" width="2.86" height="2.48" rx="0.6" fill="#6e6e6e"/>
<circle cx="776.06" cy="469.62" r="0.9" fill="#777"/>
<rect x="774.5" y="471" width="2.86" height="2.48" rx="0.6" fill="#b4b4b4"/>
<circle cx="776.06" cy="475.12" r="0.9" fill="#777"/>
<rect x="774.5" y="476.5" width="2.86" height="2.48" rx="0.6" fill="#8c8c8c"/>
<circle cx="776.06" cy="480.62" r="0.9" fill="#777"/>
<rect x="779.7" y="460" width="2.86" height="2.48" rx="0.6" fill="#b4b4b4"/>
<circle cx="781.26" cy="464.12" r="0.9" fill="#777"/>
<rect x="779.7" y="465.5" width="2.86" height="2.48" rx="0.6" fill="#a0a0a0"/>
<circle cx="781.26" cy="469.62" r="0.9" fill="#777"/>
<rect x="779.7" y="471" width="2.86" height="2.48" rx="0.6" fill="#8c8c8c"/>
<circle cx="781.26" cy="475.12" r="0.9" fill="#777"/>
<rect x="779.7" y="476.5" width="2.86" height="2.48" rx="0.6" fill="#a0a0a0"/>
<circle cx="781.26" cy="480.62" r="0.9" fill="#777"/>
<rect x="784.9" y="460" width="2.86" height="2.48" rx="0.6" fill="#a0a0a0"/>
<circle cx="786.46" cy="464.12" r="0.9" fill="#999"/>
<rect x="784.9" y="465.5" width="2.86" height="2.48" rx="0.6" fill="#6e6e6e"/>
<circle cx="786.46" cy="469.62" r="0.9" fill="#777"/>
<rect x="784.9" y="471" width="2.86" height="2.48" rx="0.6" fill="#a0a0a0"/>
<circle cx="786.46" cy="475.12" r="0.9" fill="#777"/>
<rect x="784.9" y="476.5" width="2.86" height="2.48" rx="0.6" fill="#a0a0a0"/>
<circle cx="786.46" cy="480.62" r="0.9" fill="#999"/>
</g>
<g transform="rotate(25 817.5 446)">
<rect x="817.5" y="446" width="2.48" height="2.07" rx="0.6" fill="#6e6e6e"/>
<circle cx="818.85" cy="449.45" r="0.9" fill="#777"/>
<rect x="817.5" y="450.6" width="2.48" height="2.07" rx="0.6" fill="#6e6e6e"/>
<circle cx="818.85" cy="454.05" r="0.9" fill="#999"/>
<rect x="817.5" y="455.2" width="2.48" height="2.07" rx="0.6" fill="#a0a0a0"/>
<circle cx="818.85" cy="458.65" r="0.9" fill="#777"/>
<rect x="822" y="446" width="2.48" height="2.07" rx="0.6" fill="#6e6e6e"/>
<circle cx="823.35" cy="449.45" r="0.9" fill="#777"/>
<rect x="822" y="450.6" width="2.48" height="2.07" rx="0.6" fill="#6e6e6e"/>
<circle cx="823.35" cy="454.05" r="0.9" fill="#999"/>
<rect x="822" y="455.2" width="2.48" height="2.07" rx="0.6" fill="#8c8c8c"/>
<circle cx="823.35" cy="458.65" r="0.9" fill="#555"/>
<rect x="826.5" y="446" width="2.48" height="2.07" rx="0.6" fill="#6e6e6e"/>
<circle cx="827.85" cy="449.45" r="0.9" fill="#777"/>
<rect x="826.5" y="450.6" width="2.48" height="2.07" rx="0.6" fill="#6e6e6e"/>
<circle cx="827.85" cy="454.05" r="0.9" fill="#999"/>
<rect x="826.5" y="455.2" width="2.48" height="2.07" rx="0.6" fill="#6e6e6e"/>
<circle cx="827.85" cy="458.65" r="0.9" fill="#999"/>
<rect x="831" y="446" width="2.48" height="2.07" rx="0.6" fill="#6e6e6e"/>
<circle cx="832.35" cy="449.45" r="0.9" fill="#777"/>
<rect x="831" y="450.6" width="2.48" height="2.07" rx="0.6" fill="#b4b4b4"/>
<circle cx="832.35" cy="454.05" r="0.9" fill="#999"/>
<rect x="831" y="455.2" width="2.48" height="2.07" rx="0.6" fill="#a0a0a0"/>
<circle cx="832.35" cy="458.65" r="0.9" fill="#777"/>
<rect x="835.5" y="446" width="2.48" height="2.07" rx="0.6" fill="#6e6e6e"/>
<circle cx="836.85" cy="449.45" r="0.9" fill="#777"/>
<rect x="835.5" y="450.6" width="2.48" height="2.07" rx="0.6" fill="#6e6e6e"/>
<circle cx="836.85" cy="454.05" r="0.9" fill="#999"/>
<rect x="835.5" y="455.2" width="2.48" height="2.07" rx="0.6" fill="#8c8c8c"/>
<circle cx="836.85" cy="458.65" r="0.9" fill="#555"/>
</g>
<rect x="795.5" y="404.5" width="1.1" height="9" fill="#8a8a8a" transform="rotate(15 795.5 409)"/>
<rect x="797.8" y="404.5" width="1.1" height="9" fill="#8a8a8a" transform="rotate(15 797.8 409)"/>
<rect x="800.1" y="404.5" width="1.1" height="9" fill="#8a8a8a" transform="rotate(15 800.1 409)"/>
<rect x="802.4" y="404.5" width="1.1" height="9" fill="#8a8a8a" transform="rotate(15 802.4 409)"/>
<rect x="804.7" y="404.5" width="1.1" height="9" fill="#8a8a8a" transform="rotate(15 804.7 409)"/>
<circle cx="781.6" cy="440.8" r="4.3" fill="#9a9a9a" stroke="#6a6a6a" stroke-width="0.8"/>
<circle cx="781.6" cy="440.8" r="1.6" fill="#444"/>
<circle cx="824" cy="438" r="2" fill="#aaa"/><circle cx="799.5" cy="467" r="2" fill="#aaa"/><circle cx="780" cy="409" r="1.4" fill="#bbb"/>
<circle cx="805.4" cy="442.2" r="8.9" fill="#e8f0e8" stroke="#30b04a" stroke-width="2.2"/>
<path d="M802,438 L807,446 M804,441 L808,437" stroke="#5a8a9a" stroke-width="1" fill="none"/>
</g>
<text x="777.3" y="635.3" font-family="Liberation Sans, sans-serif" font-weight="bold" font-size="9.5" fill="#cf2431">PL_2305</text>
<g fill="none" stroke="#1a1a1a" stroke-width="1.5" stroke-linejoin="round">
<path d="M789.5,651.8 L814.5,651.8 Q817.5,651.8 817.5,655 L817.5,671.5 Q817.5,674.6 814.5,674.6 L789.5,674.6 Q778.2,674.6 778.2,663.2 Q778.2,651.8 789.5,651.8 Z"/>
<path d="M783.6,663 L792,663 M803,663 L811.5,663" stroke-width="1.2"/>
</g>
<g fill="#1a1a1a"><rect x="795" y="649.2" width="6" height="2.6"/><rect x="804.5" y="652.2" width="4" height="2.3"/><rect x="793" y="671.8" width="3.5" height="2.8"/><rect x="801" y="671.8" width="3.5" height="2.8"/></g>
<text x="780.8" y="687.3" font-family="Liberation Sans, sans-serif" font-weight="bold" font-size="8.6" fill="#1a1a1a">LIN</text>
<rect x="761.5" y="700" width="13" height="6.4" fill="#dedede"/>
<rect x="776.2" y="700" width="58" height="6.4" fill="#e8e8e8"/>
<text x="763.2" y="705.6" font-family="Liberation Sans, sans-serif" font-weight="bold" font-size="5.2" fill="#111">LIN</text>
<text x="777.3" y="705.6" font-family="Liberation Sans, sans-serif" font-size="5.6" fill="#333" textLength="56.5" lengthAdjust="spacingAndGlyphs">COM Communication</text>
<rect x="761.5" y="713" width="13.5" height="6.5" fill="#d8d8d8"/><rect x="776.2" y="713" width="58" height="6.5" fill="#d8d8d8"/>
<rect x="761.5" y="727" width="13.5" height="6.5" fill="#d8d8d8"/><rect x="776.2" y="727" width="58" height="6.5" fill="#d8d8d8"/>
<g>
<rect x="717.2" y="506.9" width="11" height="1.15" fill="#e5424c"/>
<rect x="716.48" y="509.15" width="11.72" height="1.15" fill="#e5424c"/>
<rect x="715.76" y="511.4" width="12.44" height="1.15" fill="#e5424c"/>
<rect x="715.04" y="513.65" width="13.16" height="1.15" fill="#e5424c"/>
<rect x="714.32" y="515.9" width="13.88" height="1.15" fill="#e5424c"/>
<rect x="713.6" y="518.15" width="14.6" height="1.15" fill="#e5424c"/>
<rect x="712.88" y="520.4" width="15.32" height="1.15" fill="#e5424c"/>
<rect x="712.16" y="522.65" width="16.04" height="1.15" fill="#e5424c"/>
<rect x="711.44" y="524.9" width="16.76" height="1.15" fill="#e5424c"/>
<text transform="translate(685.5,525.2) skewX(-20)" font-family="Liberation Sans, sans-serif" font-weight="bold" font-size="25.5" fill="#e3202c" stroke="#e3202c" stroke-width="1.3" textLength="27.5" lengthAdjust="spacingAndGlyphs">AS</text>
<text x="672" y="532.2" font-family="Liberation Sans, sans-serif" font-size="4.6" fill="#666" textLength="64.8" lengthAdjust="spacingAndGlyphs">Alternators, Starters &amp; Parts</text>
</g>
</svg>

<div class="info" style="left:67px;top:487px;"><svg width="14" height="12" viewBox="0 0 14 12" style="position:absolute;left:0;top:1px"><path d="M0.5,1.2 L0.5,5 L6,10.6 L10.4,6.2 L4.8,0.6 L1.1,0.6 Z" fill="#111"/><circle cx="2.6" cy="2.7" r="1" fill="#fff"/><path d="M6.3,0.6 L7.6,0.6 L13.2,6.2 L8.8,10.6 L8.1,9.9 L11.8,6.2 Z" fill="#111"/></svg><span style="position:absolute;left:17.7px;top:0">AS index: <b>A0768S</b></span></div>
<div class="info" style="left:67px;top:513px;color:#d01f2f;font-weight:bold;"><svg width="13" height="12" viewBox="0 0 13 12" style="position:absolute;left:0;top:1px"><rect x="1" y="0.9" width="8.6" height="8.7" rx="1.6" fill="none" stroke="#b8323e" stroke-width="1.2"/><path d="M2.4,4.3 L5.1,7 L10.6,1.4" fill="none" stroke="#d01f2f" stroke-width="2"/></svg><span style="position:absolute;left:18px;top:-0.8px;font-size:11px">STANDARD LINE</span></div>
<div class="info" style="left:312px;top:487px;"><svg width="12" height="12" viewBox="0 0 12 12" style="position:absolute;left:0;top:1px"><circle cx="5.6" cy="5.4" r="5.15" fill="#111"/><rect x="4.8" y="4.6" width="1.8" height="3.9" fill="#fff"/><rect x="3.9" y="7.7" width="3.4" height="1" fill="#fff"/><rect x="4" y="4.6" width="1.5" height="0.9" fill="#fff"/><circle cx="5.7" cy="2.9" r="1" fill="#fff"/></svg><span style="position:absolute;left:16.3px;top:0">Brand new AS-PL Alternator</span></div>
<div class="info" style="left:312px;top:513px;"><svg width="12" height="12" viewBox="0 0 12 12" style="position:absolute;left:0;top:1px"><circle cx="5.6" cy="5.4" r="5.15" fill="#111"/><rect x="4.8" y="4.6" width="1.8" height="3.9" fill="#fff"/><rect x="3.9" y="7.7" width="3.4" height="1" fill="#fff"/><rect x="4" y="4.6" width="1.5" height="0.9" fill="#fff"/><circle cx="5.7" cy="2.9" r="1" fill="#fff"/></svg><span style="position:absolute;left:16.3px;top:0">Product type: <b>Brand new</b></span></div>
<div class="info" style="left:633px;top:487px;"><svg width="12" height="12" viewBox="0 0 12 12" style="position:absolute;left:0;top:1px"><circle cx="5.6" cy="5.4" r="5.15" fill="#111"/><rect x="4.8" y="4.6" width="1.8" height="3.9" fill="#fff"/><rect x="3.9" y="7.7" width="3.4" height="1" fill="#fff"/><rect x="4" y="4.6" width="1.5" height="0.9" fill="#fff"/><circle cx="5.7" cy="2.9" r="1" fill="#fff"/></svg><span style="position:absolute;left:15px;top:0;letter-spacing:-0.15px">Producer: <b>AS-PL</b></span></div>
<div class="abs" style="left:59px;top:542px;width:677px;height:196px;background:#fff;">
<div class="abs" style="left:2px;top:0;width:167px;height:196px;background:#e6e6e6"></div>
<div class="abs" style="left:340px;top:0;width:167px;height:196px;background:#e6e6e6"></div>
<div class="abs" style="left:0px;top:0;width:2px;height:196px;background:#d0d0d0"></div>
<div class="abs" style="left:169px;top:0;width:2px;height:196px;background:#d0d0d0"></div>
<div class="abs" style="left:338px;top:0;width:2px;height:196px;background:#d0d0d0"></div>
<div class="abs" style="left:507px;top:0;width:2px;height:196px;background:#d0d0d0"></div>
<div class="abs" style="left:675px;top:0;width:2px;height:196px;background:#d0d0d0"></div>
<div class="abs" style="left:0;top:-0.5px;width:677px;height:2px;background:#d0d0d0"></div>
<div class="abs" style="left:0;top:23.95px;width:677px;height:2px;background:#d0d0d0"></div>
<div class="abs" style="left:0;top:48.4px;width:677px;height:2px;background:#d0d0d0"></div>
<div class="abs" style="left:0;top:72.85px;width:677px;height:2px;background:#d0d0d0"></div>
<div class="abs" style="left:0;top:97.3px;width:677px;height:2px;background:#d0d0d0"></div>
<div class="abs" style="left:0;top:121.75px;width:677px;height:2px;background:#d0d0d0"></div>
<div class="abs" style="left:0;top:146.2px;width:677px;height:2px;background:#d0d0d0"></div>
<div class="abs" style="left:0;top:170.65px;width:677px;height:2px;background:#d0d0d0"></div>
<div class="abs" style="left:0;top:194.3px;width:677px;height:2px;background:#d0d0d0"></div>
<div class="cell" style="right:511.5px;top:6.3px">Voltage</div>
<div class="cell" style="right:343px;top:6.3px">12 V</div>
<div class="cell" style="right:174px;top:6.3px">Amp.</div>
<div class="cell" style="right:5px;top:6.3px">210 A</div>
<div class="cell" style="right:511.5px;top:30.8px">Size A</div>
<div class="cell" style="right:343px;top:30.8px">44.00 mm</div>
<div class="cell" style="right:174px;top:30.8px">Size C</div>
<div class="cell" style="right:5px;top:30.8px">74.00 mm</div>
<div class="cell" style="right:511.5px;top:55.3px">G</div>
<div class="cell" style="right:343px;top:55.3px">6 qty.</div>
<div class="cell" style="right:174px;top:55.3px">O.D.1</div>
<div class="cell" style="right:5px;top:55.3px">58.50 mm</div>
<div class="cell" style="right:511.5px;top:79.8px">Pulley</div>
<div class="cell" style="right:345px;top:79.8px">AFP</div>
<div class="cell" style="right:174px;top:79.8px">D.1</div>
<div class="cell" style="right:5px;top:79.8px">10.00 mm</div>
<div class="cell" style="right:511.5px;top:104.3px">D.2</div>
<div class="cell" style="right:343px;top:104.3px">10.00 mm</div>
<div class="cell" style="right:174px;top:104.3px">D.3</div>
<div class="cell" style="right:5px;top:104.3px">13.50 mm</div>
<div class="cell" style="right:511.5px;top:128.8px">E.1</div>
<div class="cell" style="right:343px;top:128.8px">97.00 mm</div>
<div class="cell" style="right:174px;top:128.8px">E.2</div>
<div class="cell" style="right:5px;top:128.8px">97.00 mm</div>
<div class="cell" style="right:511.5px;top:153.3px">L.1</div>
<div class="cell" style="right:343px;top:153.3px">189.00 mm</div>
<div class="cell" style="right:174px;top:153.3px">Plug</div>
<div class="cell" style="right:7.5px;top:153.3px">PL_2305</div>
<div class="cell" style="right:511.5px;top:177.8px">COM ID</div>
<div class="cell" style="right:345.5px;top:177.8px">88</div>
</div>
</body></html>
